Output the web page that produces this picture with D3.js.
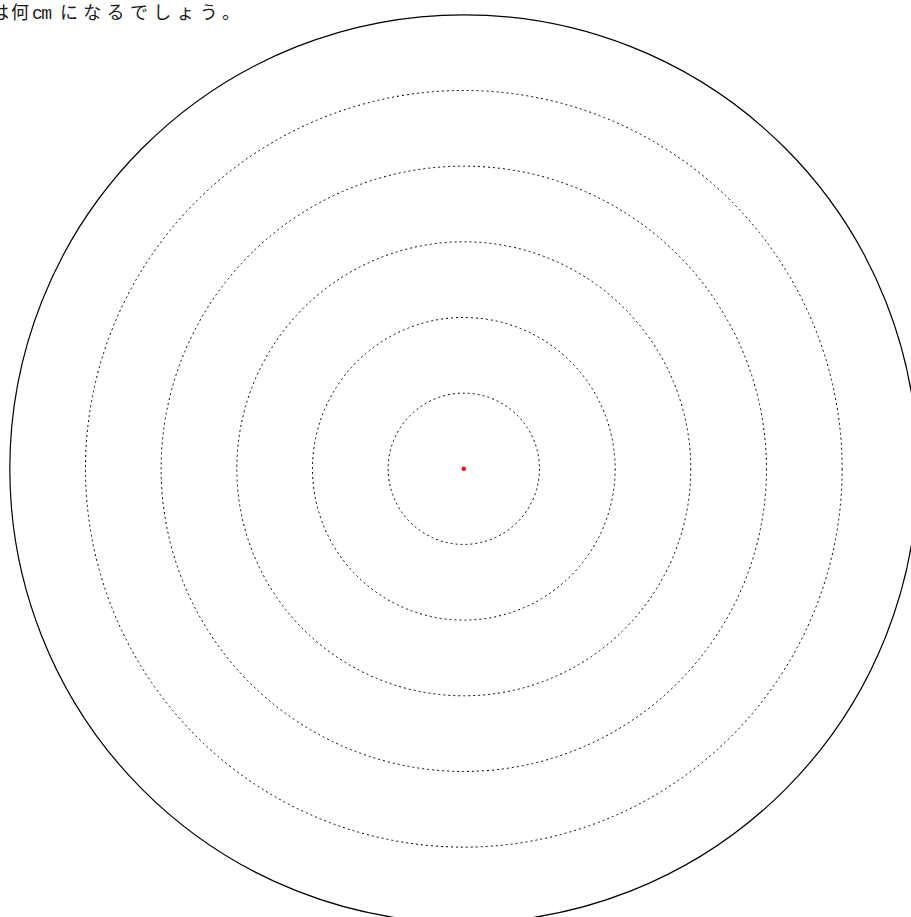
<!DOCTYPE html>
<html>
<head>
<meta charset="utf-8">
<script src="https://cdn.jsdelivr.net/npm/d3@7"></script>
<style>
  body { margin: 0; background: #fff; }
  svg { display: block; }
</style>
</head>
<body>
<div id="chart"></div>
<script>
// size of the frame
const FRAME_WIDTH = 911;
const FRAME_HEIGHT = 917;

// rings: 1..6, the last one is the solid outer circle
const rings = [1, 2, 3, 4, 5, 6];
const ringStyle = ["dotted", "dotted", "dotted", "dotted", "dotted", "solid"];
const centerPoint = [{x: 0, y: 0}];
// question text pieces (the start of the sentence is cut off in the picture)
const textParts = ["は何", "cm", "になるでしょう。"];

const svg = d3.select("#chart")
  .append("svg")
  .attr("width", FRAME_WIDTH)
  .attr("height", FRAME_HEIGHT);

// radius scale: ring number -> pixels
const rScale = d3.scaleLinear()
  .domain([0, 6])
  .range([0, 454]);

const cx = 463.8, cy = 468.8;

svg.append("g")
  .selectAll("circle")
  .data(rings)
  .enter()
  .append("circle")
    .attr("cx", cx)
    .attr("cy", cy)
    .attr("r", d => rScale(d))
    .attr("fill", "none")
    .attr("stroke", "#000")
    .attr("stroke-width", (d, i) => ringStyle[i] == "solid" ? 1.2 : 1)
    .attr("stroke-dasharray", (d, i) => ringStyle[i] == "solid" ? null : "2,3");

// red center point
svg.selectAll(".center")
  .data(centerPoint)
  .enter()
  .append("circle")
    .attr("class", "center")
    .attr("cx", d => cx + rScale(d.x))
    .attr("cy", d => cy + rScale(d.y))
    .attr("r", 2.3)
    .attr("fill", "#ee1111");

// question text, cut off at the left edge like in the picture
const txt = svg.append("text")
  .attr("y", 19)
  .attr("font-family", "'Noto Sans CJK JP', sans-serif")
  .attr("font-size", 18)
  .attr("fill", "#1a1a1a");

txt.append("tspan").attr("x", -9).attr("letter-spacing", 2).text(textParts[0]);
txt.append("tspan").attr("x", 32).attr("font-family", "'Liberation Mono', monospace")
  .attr("font-size", 18).attr("letter-spacing", -1.5).text(textParts[1]);
txt.append("tspan").attr("x", 60).attr("letter-spacing", 5.3).text(textParts[2]);
</script>
</body>
</html>
